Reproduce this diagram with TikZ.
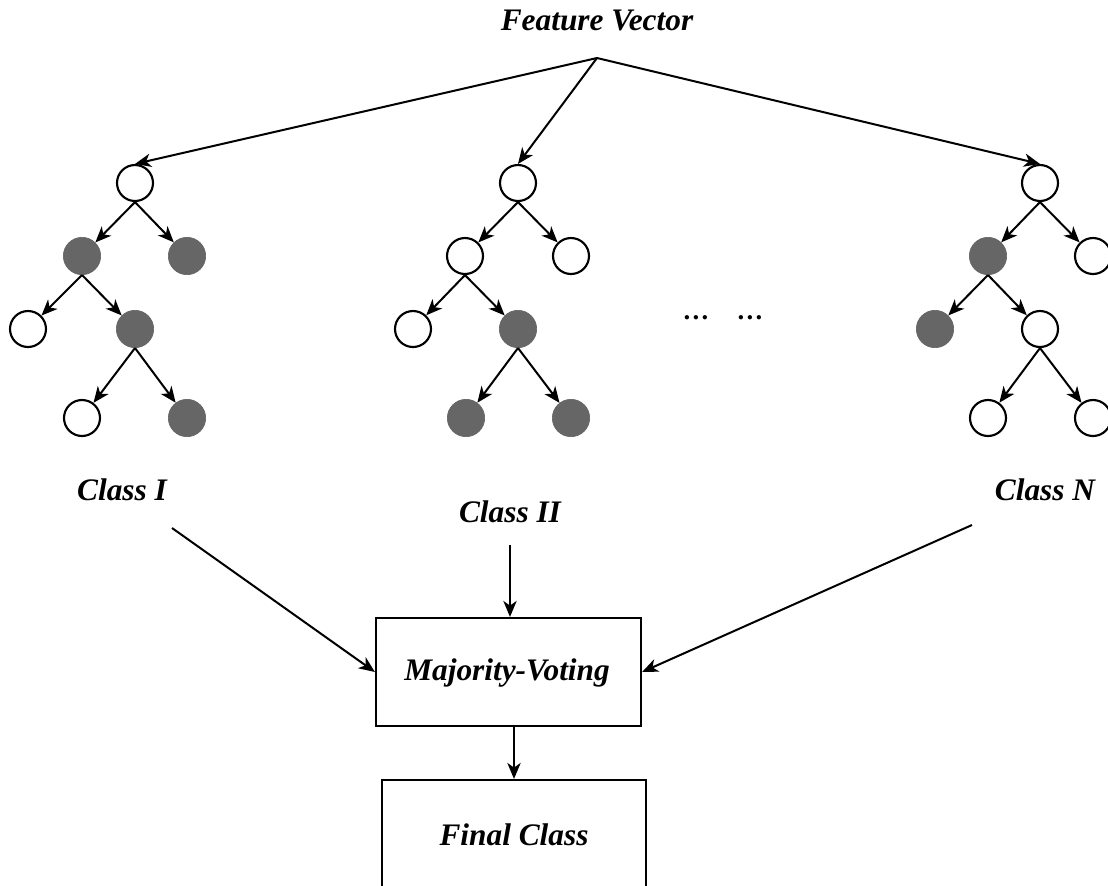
\documentclass[tikz,border=0pt]{standalone}
\usepackage{fontspec}
\setmainfont{Liberation Serif}
\usetikzlibrary{arrows.meta}
\definecolor{leafgray}{RGB}{102,102,102}
\begin{document}
\begin{tikzpicture}[x=0.75pt,y=-0.75pt,
  open/.style={circle,draw=black,line width=1.6pt,fill=white,minimum size=27pt,inner sep=0pt},
  shut/.style={circle,fill=leafgray,draw=leafgray,line width=0.5pt,minimum size=28pt,inner sep=0pt},
  link/.style={line width=1.5pt,-{Stealth[length=12pt,width=10pt,inset=3.5pt]}},
  lbl/.style={font=\fontsize{23.5}{27}\selectfont\bfseries\itshape},
  dotsty/.style={font=\fontsize{20}{24}\selectfont\bfseries},
  box/.style={draw,line width=1.6pt,inner sep=0pt,minimum width=198.75pt}]
\useasboundingbox (0,0) rectangle (1108,886);
\clip (0,0) rectangle (1108,886);

% input
\node[lbl] (fv) at (597,20) {Feature Vector};
\coordinate (apex) at (597,58);

% tree 1
\node[open] (L1)  at (135,183) {};
\node[shut] (L2a) at (82,256) {};
\node[shut] (L2b) at (187,256) {};
\node[open] (L3a) at (28,329) {};
\node[shut] (L3b) at (135,329) {};
\node[open] (L4a) at (82,418) {};
\node[shut] (L4b) at (187,418) {};

% tree 2
\node[open] (M1)  at (518,183) {};
\node[open] (M2a) at (465,256) {};
\node[open] (M2b) at (571,256) {};
\node[open] (M3a) at (413,329) {};
\node[shut] (M3b) at (518,329) {};
\node[shut] (M4a) at (466,418) {};
\node[shut] (M4b) at (571,418) {};

% tree N
\node[open] (R1)  at (1040,183) {};
\node[shut] (R2a) at (988,256) {};
\node[open] (R2b) at (1093,256) {};
\node[shut] (R3a) at (935,329) {};
\node[open] (R3b) at (1040,329) {};
\node[open] (R4a) at (988,418) {};
\node[open] (R4b) at (1093,418) {};

% ellipsis between trees
\node[dotsty] (dotsA) at (696,318) {…};
\node[dotsty] (dotsB) at (750,318) {…};

% feature vector to roots
\draw[link] (apex) -- (L1.north);
\draw[link] (apex) -- (M1.north);
\draw[link] (apex) -- (R1.north);

% tree edges
\foreach \t in {L,M,R}{
  \draw[link] (\t1.south) -- (\t2a);
  \draw[link] (\t1.south) -- (\t2b);
  \draw[link] (\t2a.south) -- (\t3a);
  \draw[link] (\t2a.south) -- (\t3b);
  \draw[link] (\t3b.south) -- (\t4a);
  \draw[link] (\t3b.south) -- (\t4b);
}

% class outputs
\node[lbl] (cls1) at (122,490) {Class I};
\node[lbl] (cls2) at (510,512) {Class II};
\node[lbl] (cls3) at (1045,490) {Class N};
\coordinate (c1) at (172,528);
\coordinate (c2) at (510,545);
\coordinate (c3) at (972,525);

% voting and result
\node[box,minimum height=81pt] (vote) at (508.5,672) {};
\node[lbl] (votetxt) at (507,673) {Majority-Voting};
\node[box,minimum width=198pt,minimum height=105pt] (final) at (514,850) {};
\node[lbl] (finaltxt) at (514,835) {Final Class};

\draw[link] (c1) -- (vote.west);
\draw[link] (c2) -- (c2 |- vote.north);
\draw[link] (c3) -- (vote.east);
\draw[link] (final.north |- vote.south) -- (final.north);
\end{tikzpicture}
\end{document}
